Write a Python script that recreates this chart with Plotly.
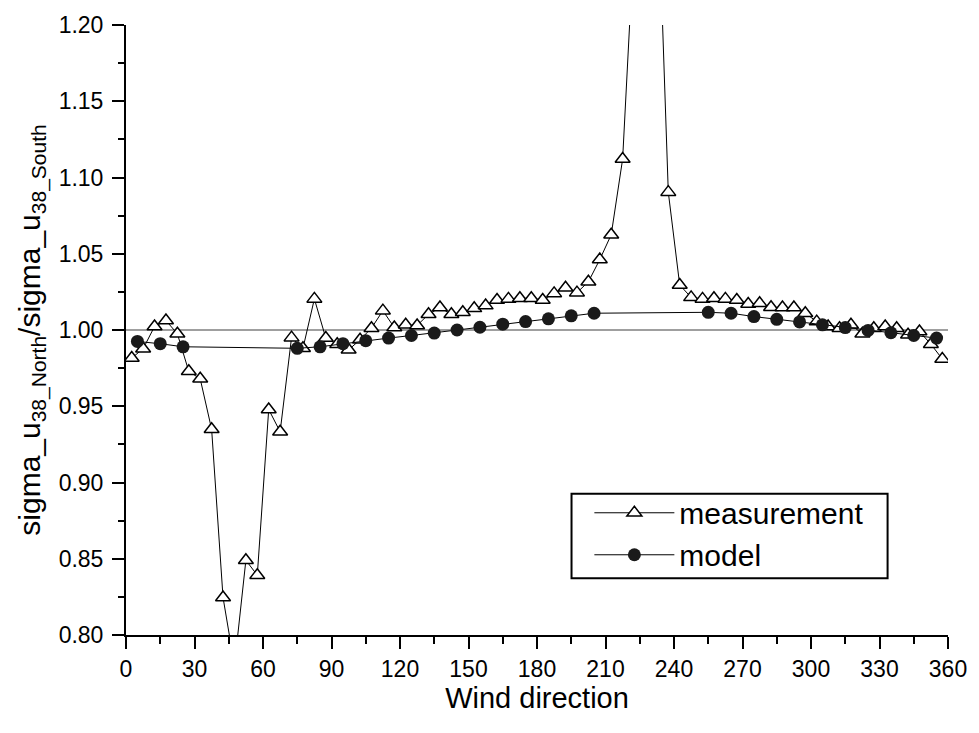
import plotly.graph_objects as go

# Measured ratio sigma_u(38 m, North) / sigma_u(38 m, South) per 5-degree wind sector
meas_dir = [2.5 + 5 * i for i in range(72)]
meas_ratio = [
    0.9816, 0.9877, 1.0023, 1.0062, 0.9975, 0.9729, 0.9680, 0.9349, 0.8246, 0.7800,
    0.8490, 0.8392, 0.9479, 0.9333, 0.9950, 0.9880, 1.0204, 0.9947, 0.9907, 0.9870,
    0.9936, 1.0012, 1.0127, 1.0016, 1.0034, 1.0030, 1.0103, 1.0147, 1.0103, 1.0116,
    1.0142, 1.0160, 1.0197, 1.0204, 1.0208, 1.0208, 1.0197, 1.0240, 1.0277, 1.0245,
    1.0316, 1.0462, 1.0625, 1.1121, 1.2500, 1.4000, 1.3100, 1.0904, 1.0295, 1.0214,
    1.0204, 1.0208, 1.0204, 1.0197, 1.0170, 1.0175, 1.0149, 1.0147, 1.0147, 1.0110,
    1.0055, 1.0023, 1.0012, 1.0034, 0.9975, 1.0012, 1.0023, 1.0012, 0.9969, 0.9990,
    0.9907, 0.9810,
]

# Modelled ratio
model_dir = [5, 15, 25, 75, 85, 95, 105, 115, 125, 135, 145, 155, 165, 175, 185, 195, 205,
             255, 265, 275, 285, 295, 305, 315, 325, 335, 345, 355]
model_ratio = [0.9925, 0.9910, 0.9890, 0.9880, 0.9890, 0.9910, 0.9930, 0.9947, 0.9964,
               0.9980, 1.0000, 1.0018, 1.0038, 1.0055, 1.0073, 1.0093, 1.0110,
               1.0116, 1.0110, 1.0088, 1.0070, 1.0053, 1.0034, 1.0016, 0.9997, 0.9982,
               0.9964, 0.9947]

x_ticks = list(range(0, 361, 30))
y_ticks = [0.80, 0.85, 0.90, 0.95, 1.00, 1.05, 1.10, 1.15, 1.20]
y_tick_text = [f"{v:.2f}" for v in y_ticks]

FONT = "Arial, Liberation Sans, sans-serif"

fig = go.Figure()

fig.add_hline(y=1.0, line=dict(color="#7f7f7f", width=1.5), layer="below")

fig.add_trace(go.Scatter(
    x=meas_dir, y=meas_ratio, name="measurement", mode="lines+markers",
    line=dict(color="black", width=1),
    marker=dict(symbol="triangle-up", size=13, color="white",
                line=dict(color="black", width=1.5)),
))
fig.add_trace(go.Scatter(
    x=model_dir, y=model_ratio, name="model", mode="lines+markers",
    line=dict(color="black", width=1),
    marker=dict(symbol="circle", size=13, color="#1a1a1a",
                line=dict(color="#1a1a1a", width=0)),
))

axis_common = dict(
    showline=True, linecolor="black", linewidth=2,
    ticks="outside", ticklen=12, tickwidth=2, tickcolor="black",
    showgrid=False, zeroline=False, mirror=False,
    tickfont=dict(family=FONT, size=23, color="black"),
)

fig.update_xaxes(
    range=[0, 360], tickvals=x_ticks,
    minor=dict(ticks="outside", ticklen=7, tickwidth=2, tickcolor="black", dtick=15, tick0=0),
    title=dict(text="Wind direction", font=dict(family=FONT, size=29, color="black"), standoff=4),
    **axis_common,
)
fig.update_yaxes(
    range=[0.80, 1.20], tickvals=y_ticks, ticktext=y_tick_text,
    minor=dict(ticks="outside", ticklen=6, tickwidth=2, tickcolor="black", dtick=0.025, tick0=0.8),
    ticklabelstandoff=4,
    title=dict(text="sigma_u<sub>38_North</sub>/sigma_u<sub>38_South</sub>",
               font=dict(family=FONT, size=30, color="black"), standoff=9),
    **axis_common,
)

# Legend frame
fig.add_shape(type="rect", xref="paper", yref="paper",
              x0=0.542, x1=0.9265, y0=0.093, y1=0.2316,
              line=dict(color="black", width=2), fillcolor="white", layer="above")

fig.update_layout(
    width=979, height=733,
    margin=dict(l=126, r=24, t=22, b=98),
    paper_bgcolor="white", plot_bgcolor="white",
    font=dict(family=FONT, color="black"),
    showlegend=True,
    legend=dict(
        x=0.5637, y=0.243, xanchor="left", yanchor="top",
        borderwidth=0, bgcolor="rgba(0,0,0,0)",
        font=dict(family=FONT, size=30, color="black"),
        itemwidth=80,
    ),
)

fig.write_html("out.html")
